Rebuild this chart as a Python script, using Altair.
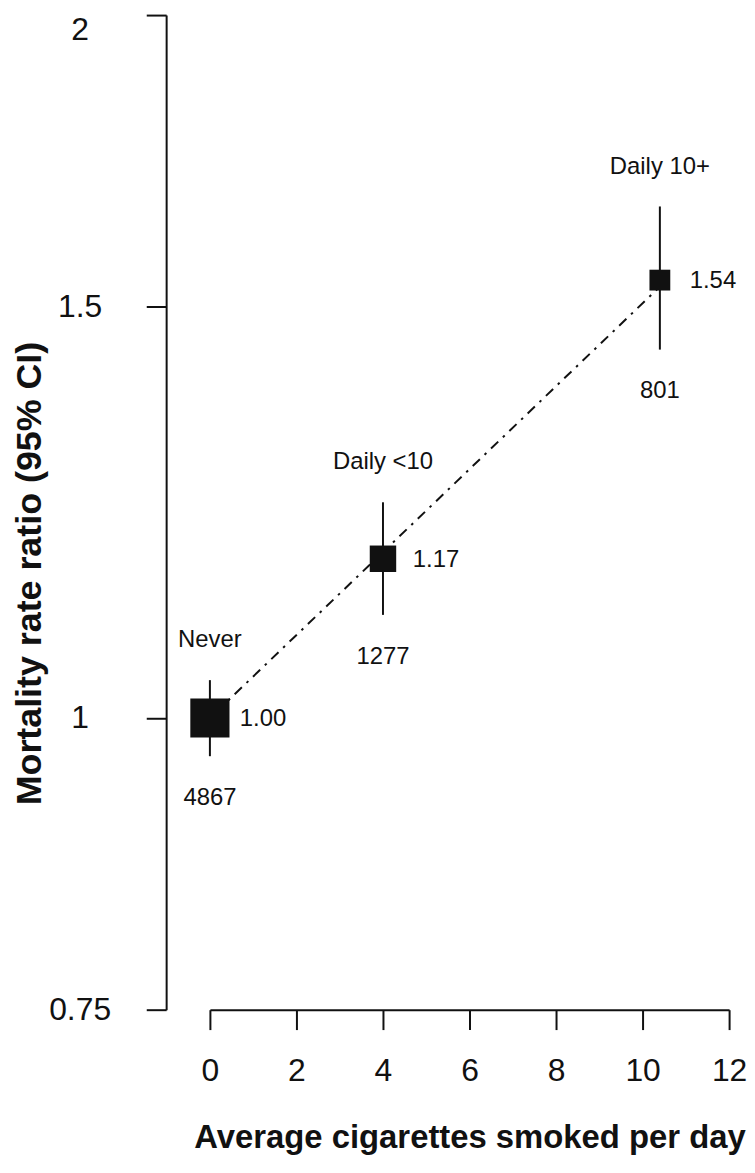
import altair as alt
import pandas as pd

# ---- data ----
groups = ["Never", "Daily <10", "Daily 10+"]
cigs = [0, 4, 10.4]
rate_ratio = [1.00, 1.17, 1.54]
ci_low = [0.963, 1.107, 1.438]
ci_high = [1.038, 1.237, 1.656]
deaths = [4867, 1277, 801]

trend_x = [0, 10.4]
trend_y = [1.00, 1.53]

x_ticks = [0, 2, 4, 6, 8, 10, 12]
y_ticks = [0.75, 1, 1.5, 2]

df = pd.DataFrame({
    "group": groups,
    "cigs": cigs,
    "rr": rate_ratio,
    "lo": ci_low,
    "hi": ci_high,
    "n": deaths,
})
trend = pd.DataFrame({"cigs": trend_x, "rr": trend_y})

FONT = "Liberation Sans"
INK = "#111111"

x_scale = alt.Scale(domain=[0, 12], nice=False, zero=False)
y_scale = alt.Scale(type="log", domain=[0.75, 2], nice=False)

x_axis = alt.Axis(
    values=x_ticks, format="d", title="Average cigarettes smoked per day",
    grid=False, domainColor=INK, domainWidth=2, tickColor=INK, tickWidth=2,
    tickSize=20, labelFont=FONT, labelFontSize=32, labelColor=INK,
    labelPadding=26, labelFlush=False, labelOverlap=False,
    titleFont=FONT, titleFontSize=33, titleFontWeight="bold", titleColor=INK,
    titleX=261, titleY=139, titleAlign="center", titleBaseline="alphabetic",
)
y_axis = alt.Axis(
    values=y_ticks, format=".3~g", title="Mortality rate ratio (95% CI)",
    offset=44, grid=False, domainColor=INK, domainWidth=2, tickColor=INK,
    tickWidth=2, tickSize=20, labelFont=FONT, labelFontSize=32, labelColor=INK,
    labelAlign="center", labelBaseline="middle", labelPadding=67,
    labelOffset={"condition": {"test": "datum.value == 2", "value": 15}, "value": 0},
    labelFlush=False, labelOverlap=False,
    titleFont=FONT, titleFontSize=36, titleFontWeight="bold", titleColor=INK,
    titleX=-126, titleY=561, titleAlign="center", titleBaseline="alphabetic",
    titleAngle=270,
)

X = alt.X("cigs:Q", scale=x_scale, axis=x_axis)
def Y(field):
    return alt.Y(f"{field}:Q", scale=y_scale, axis=y_axis)

ci = alt.Chart(df).mark_rule(strokeWidth=2, color=INK).encode(
    x=X, y=Y("lo"), y2="hi:Q"
)

line = alt.Chart(trend).mark_line(
    strokeWidth=2, color=INK, strokeDash=[2.5, 6.5, 10, 6.5]
).encode(x=X, y=Y("rr"))

squares = alt.Chart(df).transform_calculate(
    weight="1 / pow(log(datum.hi) - log(datum.lo), 2)"
).mark_square(color=INK, opacity=1).encode(
    x=X, y=Y("rr"),
    size=alt.Size("weight:Q", scale=alt.Scale(domain=[0, 180], range=[0, 1570]), legend=None),
)

cat_text = alt.Chart(df).mark_text(
    font=FONT, fontSize=24, color=INK, align="center", baseline="alphabetic", dy=-33
).encode(x=X, y=Y("hi"), text="group:N")

n_text = alt.Chart(df).mark_text(
    font=FONT, fontSize=24, color=INK, align="center", baseline="alphabetic", dy=49
).encode(x=X, y=Y("lo"), text=alt.Text("n:Q", format="d"))

val_text = alt.Chart(df).mark_text(
    font=FONT, fontSize=24, color=INK, align="left", baseline="alphabetic", dx=30, dy=8
).encode(x=X, y=Y("rr"), text=alt.Text("rr:Q", format=".2f"))

chart = alt.layer(ci, line, squares, cat_text, n_text, val_text).properties(
    width=522, height=1000,
    autosize=alt.AutoSizeParams(type="none"),
    padding={"left": 203, "top": 4, "right": 18, "bottom": 146},
    background="white",
).configure_view(stroke=None)

chart.save("out.html", embed_options={"renderer": "svg", "actions": False})
